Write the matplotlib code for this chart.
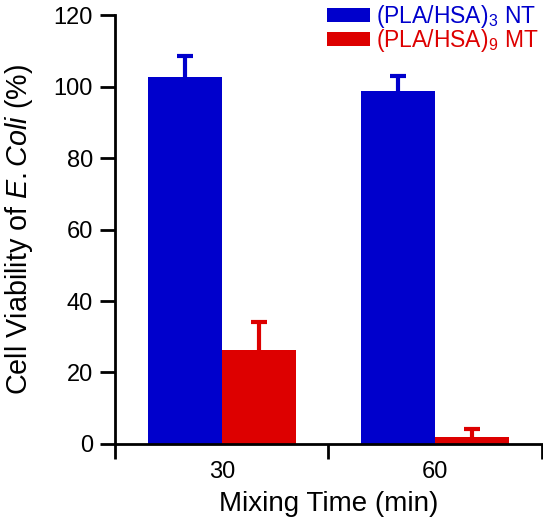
import numpy as np
import matplotlib.pyplot as plt

plt.rcParams['font.family'] = ['Liberation Sans', 'DejaVu Sans']
plt.rcParams['mathtext.fontset'] = 'custom'
plt.rcParams['mathtext.rm'] = 'Liberation Sans'
plt.rcParams['mathtext.it'] = 'Liberation Sans:italic'

# data
times = ['30', '60']
nt_vals = [102.7, 98.7]
nt_err = [5.8, 4.2]
mt_vals = [26.3, 2.0]
mt_err = [7.8, 2.2]

blue = '#0000CC'
red = '#DD0000'

fig = plt.figure(figsize=(5.43, 5.2), dpi=100)
ax = fig.add_axes([0.2118, 0.1462, 0.786, 0.8248])

centers = np.arange(len(times)) + 0.5
w = 0.347

ax.bar(centers - w / 2, nt_vals, w, color=blue, label=r'(PLA/HSA)$_3$ NT')
ax.bar(centers + w / 2, mt_vals, w, color=red, label=r'(PLA/HSA)$_9$ MT')

# upper error bars only
for x, v, e, c in [(centers - w / 2, nt_vals, nt_err, blue), (centers + w / 2, mt_vals, mt_err, red)]:
    tops = np.array(v) + np.array(e)
    ax.vlines(x, v, tops, color=c, lw=3)
    ax.plot(x, tops, ls='none', marker='_', ms=12, mew=3, color=c)

ax.set_xlim(0, 2)
ax.set_ylim(0, 120)
ax.set_yticks(range(0, 121, 20))
ax.set_xticks([0, 1, 2])
ax.set_xticklabels([])
ax.set_xticks(centers, minor=True)
ax.set_xticklabels(times, minor=True)
ax.tick_params(axis='x', which='minor', length=0, labelsize=17, pad=12)
ax.tick_params(axis='x', which='major', length=11, width=2, direction='out')
ax.tick_params(axis='y', length=11, width=2, direction='out', labelsize=17, pad=5)

for s in ['top', 'right']:
    ax.spines[s].set_visible(False)
for s in ['left', 'bottom']:
    ax.spines[s].set_linewidth(2)

ax.set_xlabel('Mixing Time (min)', fontsize=20, labelpad=6)
ax.set_ylabel(r'Cell Viability of $\it{E.Coli}$ (%)', fontsize=20.7, labelpad=13)

leg = ax.legend(loc='upper right', bbox_to_anchor=(1.013, 1.05), frameon=False, fontsize=16.5,
                handlelength=1.85, handleheight=0.55, handletextpad=0.27, labelspacing=-0.12,
                borderaxespad=0.0)
for t, c in zip(leg.get_texts(), [blue, red]):
    t.set_color(c)

fig.savefig('out.png', dpi=100)
